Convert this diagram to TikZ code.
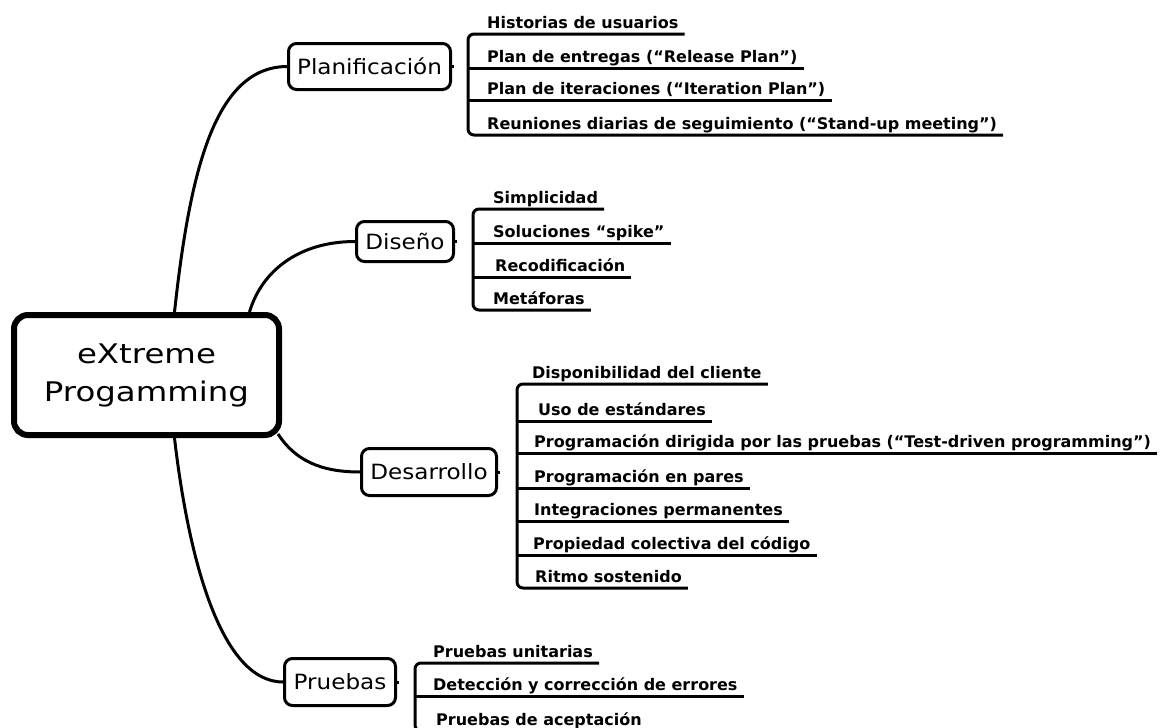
\documentclass[tikz,border=0pt]{standalone}
\usepackage{fontspec}
\usetikzlibrary{calc}
\newfontfamily\hubfont[FakeStretch=1.2]{DejaVu Sans}
\newfontfamily\branchfont[FakeStretch=1.1]{DejaVu Sans}
\newfontfamily\leaffont{DejaVu Sans}

\tikzset{
  hub/.style={draw, line width=6pt, rounded corners=14pt, inner sep=0pt,
    minimum width=265pt, minimum height=120pt, align=center,
    font=\hubfont\fontsize{27}{38}\selectfont},
  branch/.style={draw, line width=3pt, rounded corners=8pt, inner sep=0pt,
    font=\branchfont\fontsize{21}{25}\selectfont},
  leaf/.style={anchor=base west, inner sep=0pt,
    font=\leaffont\bfseries\fontsize{16}{19}\selectfont},
  link/.style={line width=3pt},
  rail/.style={line width=3pt, rounded corners=6pt},
}

\begin{document}
\begin{tikzpicture}[x=1pt, y=-1pt]
  \clip (0,0) rectangle (1163,728);
  \fill[white] (0,0) rectangle (1163,728);

  % central topic
  \node[hub] (hub) at (146.5,375) {eXtreme\\Progamming};

  % main branches
  \node[branch, minimum width=162pt, minimum height=46pt] (plan) at (369.5,66.5) {Planificación};
  \node[branch, minimum width=97pt,  minimum height=40pt] (dis)  at (405,241.5) {Diseño};
  \node[branch, minimum width=135pt, minimum height=47pt] (des)  at (429,472) {Desarrollo};
  \node[branch, minimum width=111pt, minimum height=47pt] (pru)  at (340,682) {Pruebas};

  % curved links from the central topic
  \draw[link] ($(hub.north)+(28,0)$) .. controls (190,170) and (215,67) .. (plan.west);
  \draw[link] ($(hub.north)+(103,0)$) .. controls (262,270) and (300,241.5) .. (dis.west);
  \draw[link] ($(hub.south east)+(-4,-4)$) .. controls (295,460) and (320,472) .. (des.west);
  \draw[link] ($(hub.south)+(28,0)$) .. controls (188,555) and (220,682) .. (pru.west);

  % short stubs on the branch boxes
  \draw[link] (plan.east) -- ++(2,0);
  \draw[link] (dis.east) -- ++(2,0);
  \draw[link] (des.east) -- ++(2,0);
  \draw[link] (pru.east) -- ++(2,0);

  % Planificación
  \node[leaf] (pl1) at (487,28)  {Historias de usuarios};
  \node[leaf] (pl2) at (487,62)  {Plan de entregas (“Release Plan”)};
  \node[leaf] (pl3) at (487,94)  {Plan de iteraciones (“Iteration Plan”)};
  \node[leaf] (pl4) at (487,129) {Reuniones diarias de seguimiento (“Stand-up meeting”)};
  \draw[rail] ($(pl1.base east)+(6,6)$) -- (468,34) -- (468,135) -- ($(pl4.base east)+(6,6)$);
  \draw[rail] (468,68)  -- ($(pl2.base east)+(6,6)$);
  \draw[rail] (468,100) -- ($(pl3.base east)+(6,6)$);

  % Diseño
  \node[leaf] (di1) at (493,203) {Simplicidad};
  \node[leaf] (di2) at (493,237) {Soluciones “spike”};
  \node[leaf] (di3) at (495,271) {Recodificación};
  \node[leaf] (di4) at (493,304) {Metáforas};
  \draw[rail] ($(di1.base east)+(6,6)$) -- (473,209) -- (473,310) -- ($(di4.base east)+(6,6)$);
  \draw[rail] (473,243) -- ($(di2.base east)+(6,6)$);
  \draw[rail] (473,277) -- ($(di3.base east)+(6,6)$);

  % Desarrollo
  \node[leaf] (de1) at (532,378) {Disponibilidad del cliente};
  \node[leaf] (de2) at (538,415) {Uso de estándares};
  \node[leaf] (de3) at (534,447) {Programación dirigida por las pruebas (“Test-driven programming”)};
  \node[leaf] (de4) at (534,482) {Programación en pares};
  \node[leaf] (de5) at (534,515) {Integraciones permanentes};
  \node[leaf] (de6) at (533,549) {Propiedad colectiva del código};
  \node[leaf] (de7) at (535,582) {Ritmo sostenido};
  \draw[rail] ($(de1.base east)+(6,6)$) -- (517,384) -- (517,588) -- ($(de7.base east)+(6,6)$);
  \draw[rail] (517,421) -- ($(de2.base east)+(6,6)$);
  \draw[rail] (517,453) -- ($(de3.base east)+(6,6)$);
  \draw[rail] (517,488) -- ($(de4.base east)+(6,6)$);
  \draw[rail] (517,521) -- ($(de5.base east)+(6,6)$);
  \draw[rail] (517,555) -- ($(de6.base east)+(6,6)$);

  % Pruebas
  \node[leaf] (pr1) at (433,657) {Pruebas unitarias};
  \node[leaf] (pr2) at (433,690) {Detección y corrección de errores};
  \node[leaf] (pr3) at (436,725) {Pruebas de aceptación};
  \draw[rail] ($(pr1.base east)+(6,6)$) -- (415,663) -- (415,731) -- ($(pr3.base east)+(6,6)$);
  \draw[rail] (415,696) -- ($(pr2.base east)+(6,6)$);
\end{tikzpicture}
\end{document}
